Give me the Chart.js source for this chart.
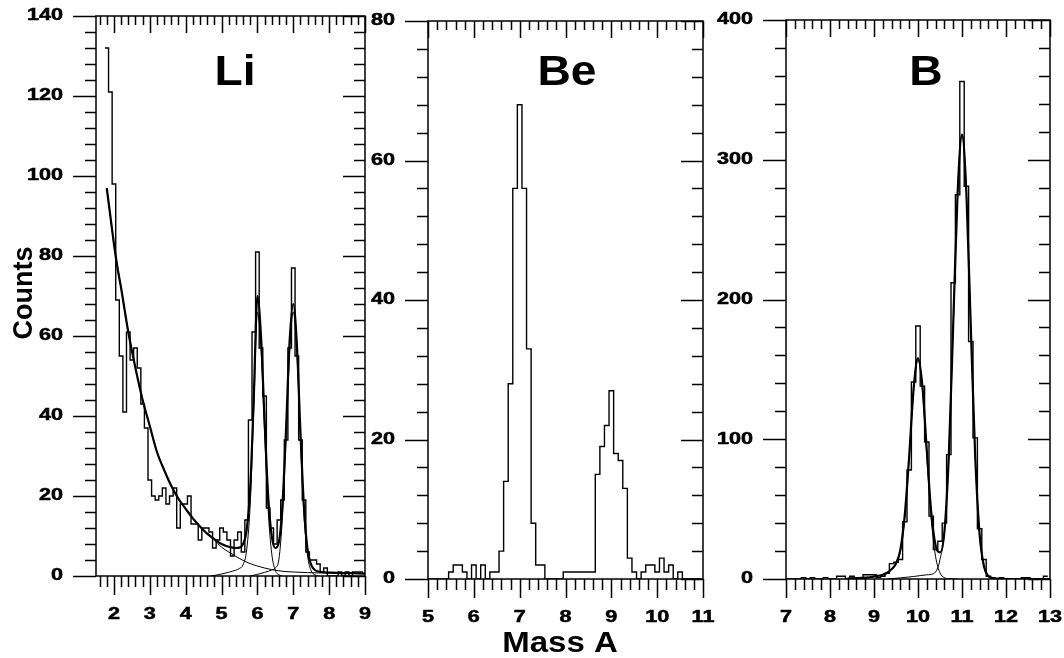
<!DOCTYPE html>
<html lang="en">
<head>
<meta charset="UTF-8">
<title>Counts vs Mass A</title>
<style>
  body { margin: 0; background: #fff; }
  .wrap { position: relative; width: 1064px; height: 658px; }
  .wrap canvas { position: absolute; left: 0; top: 0; }
</style>
</head>
<body>
<div class="wrap">
  <canvas id="li" width="1064" height="658"></canvas>
  <canvas id="be" width="1064" height="658"></canvas>
  <canvas id="b" width="1064" height="658"></canvas>
</div>
<script src="https://cdn.jsdelivr.net/npm/chart.js"></script>
<script>
const BIN = 0.1

// ---- Li panel ----
const liMass = [1.8,1.9,2.0,2.1,2.2,2.3,2.4,2.5,2.6,2.7,2.8,2.9,3.0,3.1,3.2,3.3,3.4,3.5,3.6,3.7,3.8,3.9,
  4.0,4.1,4.2,4.3,4.4,4.5,4.6,4.7,4.8,4.9,5.0,5.1,5.2,5.3,5.4,5.5,5.6,5.7,5.8,5.9,
  6.0,6.1,6.2,6.3,6.4,6.5,6.6,6.7,6.8,6.9,7.0,7.1,7.2,7.3,7.4,7.5,7.6,7.7,7.8,7.9,
  8.0,8.1,8.2,8.3,8.4,8.5,8.6,8.7,8.8,8.9]
const liCounts = [132,121,98,69,55,41,61,54,57,52,43,37,24,20,19,20,22,18,20,22,12,18,
  18,20,13,13,9,12,12,11,7,9,12,11,9,5,9,11,6,14,39,61,
  81,57,45,17,12,8,14,19,34,57,77,55,34,19,6,4,4,3,1,2,
  0,0,0,1,0,1,0,1,1,1]
const liFitX = [1.8,1.9,2.0,2.1,2.2,2.4,2.6,2.8,3.0,3.2,3.4,3.6,3.8,4.0,4.2,4.4,4.6,4.8,5.0,5.2,5.4,5.5,
  5.6,5.7,5.8,5.9,6.0,6.1,6.2,6.3,6.4,6.5,6.6,6.7,6.8,6.9,7.0,7.1,7.2,7.3,7.4,7.5,7.6,7.8,8.2,8.6,9.0]
const liFitY = [97,90,83,77,72,61,52,44,37.5,31,26.5,22.5,19.3,16.8,14.4,12.4,10.6,9.2,8.0,7.3,7.0,7.1,
  8.0,11.5,22,45,70,60,39,20,10,7,8.5,18,37,59,68,58,36,17,6.5,2.8,1.5,1.0,0.8,0.7,0.6]
const liBgX = [1.8,2.0,2.2,2.4,2.6,2.8,3.0,3.2,3.4,3.6,3.8,4.0,4.2,4.4,4.6,4.8,5.0,5.2,5.4,5.6,5.8,
  6.0,6.2,6.4,6.6,6.8,7.0,7.4,7.8,8.2,8.6,9.0]
const liBgY = [97,83,72,61,52,44,37.5,31,26.5,22.5,19.3,16.8,14.3,12.3,10.5,9.0,7.2,6.0,4.9,3.9,3.1,
  2.5,2.0,1.6,1.3,1.1,1.0,0.85,0.75,0.7,0.65,0.6]
const li6X = [4.7,4.9,5.1,5.3,5.5,5.6,5.7,5.8,5.9,6.0,6.1,6.2,6.3,6.4,6.5,6.6,6.7]
const li6Y = [0,0.3,0.7,1.2,1.9,2.8,6.5,18,42,66,57,36,16.5,5.6,1.4,0.3,0]
const li7X = [5.8,6.0,6.2,6.4,6.5,6.6,6.7,6.8,6.9,7.0,7.1,7.2,7.3,7.4,7.5,7.6,7.7]
const li7Y = [0,0.4,0.9,1.5,2.0,4.2,15,35,56,66,56,34,15,5,1.3,0.3,0]
const liXTicks = [2,3,4,5,6,7,8,9]
const liYTicks = [0,20,40,60,80,100,120,140]

// ---- Be panel ----
const beMass = [5.0,5.1,5.2,5.3,5.4,5.5,5.6,5.7,5.8,5.9,6.0,6.1,6.2,6.3,6.4,6.5,6.6,6.7,6.8,6.9,
  7.0,7.1,7.2,7.3,7.4,7.5,7.6,7.7,7.8,7.9,8.0,8.1,8.2,8.3,8.4,8.5,8.6,8.7,8.8,8.9,
  9.0,9.1,9.2,9.3,9.4,9.5,9.6,9.7,9.8,9.9,10.0,10.1,10.2,10.3,10.4,10.5,10.6,10.7,10.8,10.9]
const beCounts = [0,0,0,0,0,1,2,2,1,0,2,0,2,0,1,1,4,14,28,56,
  68,56,33,8,2,2,0,0,0,0,1,1,1,1,1,1,1,15,19,22,
  27,18,17,13,3,1,0,1,2,2,1,3,1,2,0,1,0,0,0,0]
const beXTicks = [5,6,7,8,9,10,11]
const beYTicks = [0,20,40,60,80]

// ---- B panel ----
const bMass = [7.0,7.1,7.2,7.3,7.4,7.5,7.6,7.7,7.8,7.9,8.0,8.1,8.2,8.3,8.4,8.5,8.6,8.7,8.8,8.9,
  9.0,9.1,9.2,9.3,9.4,9.5,9.6,9.7,9.8,9.9,10.0,10.1,10.2,10.3,10.4,10.5,10.6,10.7,10.8,10.9,
  11.0,11.1,11.2,11.3,11.4,11.5,11.6,11.7,11.8,11.9,12.0,12.1,12.2,12.3,12.4,12.5,12.6,12.7,12.8,12.9]
const bCounts = [0,0,0,0,1,0,1,0,0,1,0,0,2,2,0,2,0,0,3,3,
  3,1,2,4,11,12,14,41,78,141,181,138,98,45,21,27,40,89,212,275,
  356,281,170,101,36,14,2,1,0,1,0,0,0,0,1,1,0,0,0,2]
const bFitX = [8.4,8.6,8.8,9.0,9.2,9.3,9.4,9.5,9.6,9.7,9.8,9.9,10.0,10.1,10.2,10.3,10.4,10.5,10.6,
  10.7,10.8,10.9,11.0,11.1,11.2,11.3,11.4,11.5,11.6,11.7,11.8,12.0,12.5,13.0]
const bFitY = [0.3,0.6,1.0,1.8,3,4.5,7,11,21,46,88,136,158,138,92,48,24,19,34,
  88,182,276,318,276,180,88,32,9,2,0.6,0.2,0,0,0]
const b10X = [8.6,8.8,9.0,9.2,9.3,9.4,9.5,9.6,9.7,9.8,9.9,10.0,10.1,10.2,10.3,10.4,10.5,10.6,10.7,10.9]
const b10Y = [0,0.5,1.5,3,4.5,7,11,20,44,87,135,157,136,88,43,16,4.4,1,0.2,0]
const b11X = [9.3,9.6,9.9,10.2,10.35,10.45,10.5,10.6,10.7,10.8,10.9,11.0,11.1,11.2,11.3,11.4,11.5,11.6,11.7,11.8]
const b11Y = [0,0.8,1.8,3,3.8,8,14,33,88,180,276,318,276,180,88,32,9,2,0.5,0]
const bXTicks = [7,8,9,10,11,12,13]
const bYTicks = [0,100,200,300,400]

const FONT = '"Liberation Sans", Arial, sans-serif'

function steps(centers, counts) {
  const pts = centers.map((c, i) => ({x: c - BIN / 2, y: counts[i]}))
  const last = centers.length - 1
  pts.push({x: centers[last] + BIN / 2, y: counts[last]})
  return pts
}
function curve(xs, ys) {
  return xs.map((x, i) => ({x, y: ys[i]}))
}
function hist(data) {
  return {data, borderColor: '#000', borderWidth: 1.4, stepped: true, pointRadius: 0, fill: false}
}
function fit(data, w) {
  return {data, borderColor: '#000', borderWidth: w, pointRadius: 0, fill: false,
    cubicInterpolationMode: 'monotone'}
}

function label(ctx, str, x, y, font, align, base, sx, heavy) {
  ctx.save()
  ctx.translate(x, y)
  ctx.scale(sx, 1)
  ctx.font = font
  ctx.textAlign = align
  ctx.textBaseline = base
  ctx.fillText(str, 0, 0)
  if (heavy) {
    ctx.lineWidth = heavy
    ctx.strokeText(str, 0, 0)
  }
  ctx.restore()
}

// frame, inner/outer ticks and labels drawn from the chart's scales
const frame = {
  id: 'frame',
  afterDraw(chart, args, o) {
    const {ctx, chartArea: a, scales: {x, y}} = chart
    ctx.save()
    ctx.strokeStyle = '#000'
    ctx.fillStyle = '#000'
    ctx.lineWidth = 1.5
    ctx.strokeRect(a.left, a.top, a.right - a.left, a.bottom - a.top)
    ctx.beginPath()
    const isMajor = (v, m) => Math.abs(v / m - Math.round(v / m)) < 1e-6
    for (let k = Math.ceil(x.min / o.xMinor - 1e-6); k * o.xMinor <= x.max + 1e-6; k++) {
      const v = k * o.xMinor
      const px = Math.round(x.getPixelForValue(v)) + 0.5
      const mj = isMajor(v, o.xMajor)
      ctx.moveTo(px, a.bottom); ctx.lineTo(px, a.bottom + (mj ? 19 : 11))
      ctx.moveTo(px, a.top); ctx.lineTo(px, a.top + (mj ? 17 : 9))
    }
    for (let k = Math.ceil(y.min / o.yMinor - 1e-6); k * o.yMinor <= y.max + 1e-6; k++) {
      const v = k * o.yMinor
      const py = Math.round(y.getPixelForValue(v)) + 0.5
      const mj = isMajor(v, o.yMajor)
      ctx.moveTo(a.left - (mj ? 23 : 11), py); ctx.lineTo(a.left, py)
      ctx.moveTo(a.right, py); ctx.lineTo(a.right - (mj ? 22 : 11), py)
    }
    ctx.stroke()
    const tf = 'bold 16px ' + FONT
    o.xLabels.forEach(v => label(ctx, String(v), x.getPixelForValue(v), a.bottom + 39, tf, 'center', 'middle', 1.35, 0.5))
    o.yLabels.forEach(v => label(ctx, String(v), a.left - 33, y.getPixelForValue(v), tf, 'right', 'middle', 1.35, 0.5))
    label(ctx, o.title, o.titleX, 85, 'bold 42px ' + FONT, 'center', 'alphabetic', 1.1)
    if (o.axisTitles) {
      label(ctx, 'Mass A', 560, 652, 'bold 30px ' + FONT, 'center', 'alphabetic', 1.1)
      ctx.save()
      ctx.translate(32, 293)
      ctx.rotate(-Math.PI / 2)
      ctx.font = 'bold 27px ' + FONT
      ctx.textAlign = 'center'
      ctx.textBaseline = 'alphabetic'
      ctx.fillText('Counts', 0, 0)
      ctx.restore()
    }
    ctx.restore()
  }
}

function panel(id, box, xr, yr, datasets, opts) {
  new Chart(document.getElementById(id), {
    type: 'line',
    data: {datasets},
    options: {
      responsive: false,
      animation: false,
      layout: {padding: {left: box[0], top: box[1], right: 1064 - box[2], bottom: 658 - box[3]}},
      scales: {
        x: {type: 'linear', display: false, min: xr[0], max: xr[1]},
        y: {type: 'linear', display: false, min: yr[0], max: yr[1]}
      },
      plugins: {legend: {display: false}, tooltip: {enabled: false}, frame: opts}
    },
    plugins: [frame]
  })
}

panel('li', [96, 16, 365, 576], [1.5, 9], [0, 140], [
  hist(steps(liMass, liCounts)),
  fit(curve(liBgX, liBgY), 1),
  fit(curve(li6X, li6Y), 1),
  fit(curve(li7X, li7Y), 1),
  fit(curve(liFitX, liFitY), 2.2)
], {xMajor: 1, xMinor: 0.2, yMajor: 20, yMinor: 4, xLabels: liXTicks, yLabels: liYTicks,
    title: 'Li', titleX: 235, axisTitles: true})

panel('be', [428, 21, 703, 579], [5, 11], [0, 80], [
  hist(steps(beMass, beCounts))
], {xMajor: 1, xMinor: 0.2, yMajor: 20, yMinor: 4, xLabels: beXTicks, yLabels: beYTicks,
    title: 'Be', titleX: 567})

panel('b', [786, 20, 1050, 579], [7, 13], [0, 400], [
  hist(steps(bMass, bCounts)),
  fit(curve(b10X, b10Y), 1),
  fit(curve(b11X, b11Y), 1),
  fit(curve(bFitX, bFitY), 2.2)
], {xMajor: 1, xMinor: 0.2, yMajor: 100, yMinor: 20, xLabels: bXTicks, yLabels: bYTicks,
    title: 'B', titleX: 926})
</script>
</body>
</html>
